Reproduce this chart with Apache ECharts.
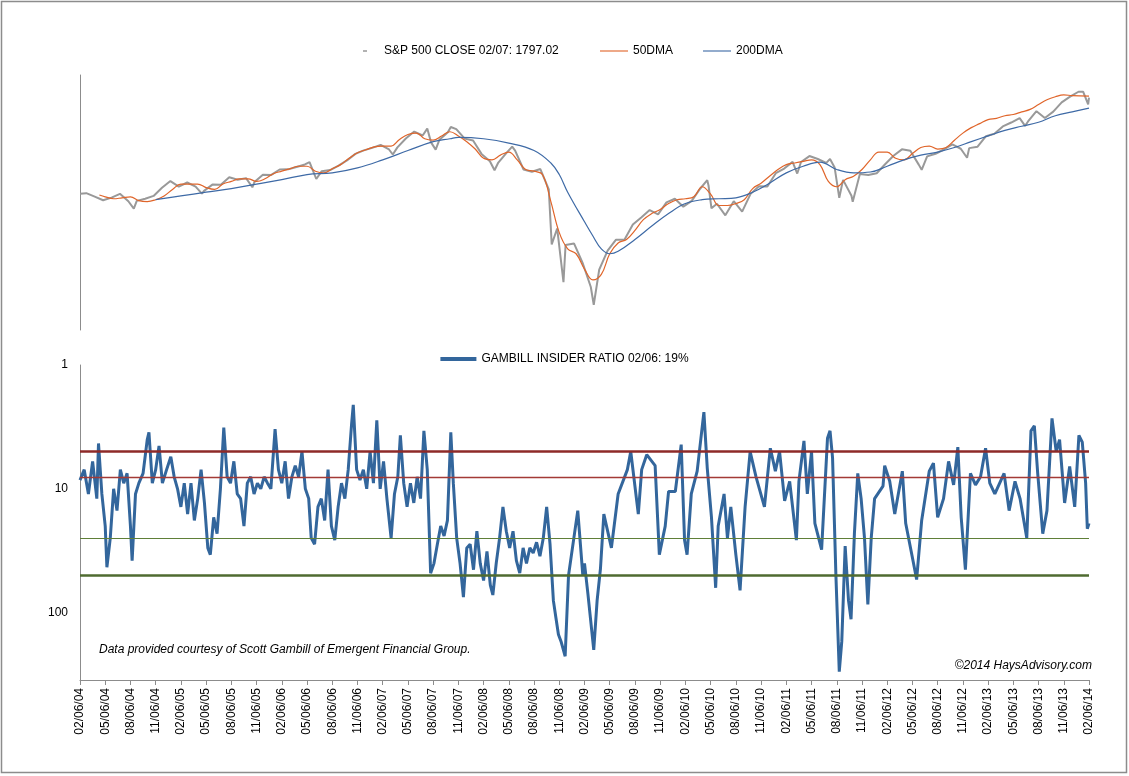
<!DOCTYPE html>
<html>
<head>
<meta charset="utf-8">
<script src="https://cdn.jsdelivr.net/npm/echarts@6/dist/echarts.min.js"></script>
<style>
html, body { margin: 0; padding: 0; background: #fff; }
#chart { width: 1129px; height: 776px; }
</style>
</head>
<body>
<div id="chart"></div>
<script>
// x position = months after 02/06/04
var tickLabels = ['02/06/04','05/06/04','08/06/04','11/06/04','02/06/05','05/06/05','08/06/05','11/06/05',
	'02/06/06','05/06/06','08/06/06','11/06/06','02/06/07','05/06/07','08/06/07','11/06/07',
	'02/06/08','05/06/08','08/06/08','11/06/08','02/06/09','05/06/09','08/06/09','11/06/09',
	'02/06/10','05/06/10','08/06/10','11/06/10','02/06/11','05/06/11','08/06/11','11/06/11',
	'02/06/12','05/06/12','08/06/12','11/06/12','02/06/13','05/06/13','08/06/13','11/06/13','02/06/14'];

// S&P 500 close (month ends plus a few turning points)
var spxClose = [
	[0,1142],[0.75,1145],[1.75,1126],[2.75,1107],[3.75,1121],[4.75,1141],[5.75,1102],[6.4,1064],[6.75,1104],[7.75,1115],[8.75,1130],[9.75,1174],[10.75,1212],
	[11.75,1181],[12.75,1204],[13.75,1181],[14.5,1142],[14.75,1157],[15.75,1192],[16.75,1191],[17.75,1234],[18.75,1220],[19.75,1229],[20.5,1177],[20.75,1207],[21.75,1249],[22.75,1248],
	[23.75,1280],[24.75,1281],[25.75,1295],[26.75,1311],[27.3,1326],[28.1,1224],[28.75,1270],[29.75,1277],[30.75,1304],[31.75,1336],[32.75,1378],[33.75,1401],[34.75,1418],
	[35.75,1438],[36.75,1407],[37.2,1374],[37.75,1421],[38.75,1482],[39.75,1531],[40.75,1503],[41.3,1553],[41.75,1455],[42.3,1406],[42.75,1474],[43.75,1527],[44.1,1565],[44.75,1549],[45.75,1481],[46.75,1468],
	[47.75,1378],[48.75,1331],[49.3,1276],[49.75,1323],[50.75,1386],[51.4,1426],[51.75,1400],[52.75,1280],[53.75,1267],[54.75,1283],[55.75,1166],[56.1,899],[56.75,969],[57.5,752],[57.75,896],[58.75,903],
	[59.75,826],[60.75,735],[61.1,676],[61.75,798],[62.75,873],[63.75,919],[64.75,919],[65.75,987],[66.75,1021],[67.75,1057],[68.75,1036],[69.75,1096],[70.75,1115],
	[71.75,1074],[72.75,1104],[73.75,1169],[74.6,1217],[74.75,1187],[75.1,1066],[75.75,1089],[76.75,1031],[76.9,1022],[77.75,1102],[78.75,1049],[79.75,1141],[80.75,1183],[81.75,1181],[82.75,1258],
	[83.75,1286],[84.75,1327],[85.3,1256],[85.75,1326],[86.75,1364],[87.75,1345],[88.75,1321],[89.2,1345],[89.75,1292],[90.3,1120],[90.75,1219],[91.75,1131],[91.9,1099],[92.75,1253],[93.75,1247],[94.75,1258],
	[95.75,1312],[96.75,1366],[97.75,1408],[98.75,1398],[99.75,1310],[100.1,1278],[100.75,1362],[101.75,1379],[102.75,1407],[103.75,1441],[104.75,1412],[105.5,1353],[105.75,1416],[106.75,1426],
	[107.75,1498],[108.75,1515],[109.75,1569],[110.75,1598],[111.75,1631],[112.4,1573],[112.75,1606],[113.75,1686],[114.75,1633],[115.75,1682],[116.75,1757],[117.75,1806],[118.75,1848],[119.3,1848],[119.9,1742],[120,1797]
];

var dma50 = [
	[2.3,1135],[3,1125],[4,1115],[5,1120],[6,1125],[7,1105],[8,1100],[9,1110],[10,1130],[11,1165],[12,1195],[13,1195],[14,1195],[15,1175],[16,1165],[17,1195],
	[18,1210],[19,1225],[20,1225],[21,1210],[22,1225],[23,1255],[24,1270],[25,1285],[26,1300],[27,1300],[28,1270],[29,1260],[30,1285],[31,1310],[32,1350],[33,1385],
	[34,1405],[35,1425],[36,1430],[37,1430],[38,1475],[39,1510],[40,1520],[41,1480],[42,1470],[43,1500],[44,1530],[45,1500],[46,1460],[47,1410],[48,1350],[49,1340],
	[50,1370],[51,1390],[52,1340],[53,1280],[54,1270],[55,1250],[56,1100],[57,950],[58,880],[59,860],[60,800],[61,760],[62,780],[63,860],[64,905],[65,920],
	[66,960],[67,1010],[68,1040],[69,1060],[70,1090],[71,1110],[72,1115],[73,1125],[74,1180],[75,1140],[76,1080],[77,1080],[78,1090],[79,1110],[80,1170],[81,1200],
	[82,1240],[83,1280],[84,1310],[85,1320],[86,1330],[87,1340],[88,1310],[89,1210],[90,1180],[91,1220],[92,1240],[93,1280],[94,1340],[95,1390],[96,1390],[97,1350],
	[98,1340],[99,1380],[100,1420],[101,1430],[102,1410],[103,1420],[104,1470],[105,1520],[106,1560],[107,1590],[108,1620],[109,1630],[110,1650],[111,1660],[112,1680],
	[113,1700],[114,1740],[115,1780],[116,1805],[117,1820],[118,1815],[120,1810]
];

var dma200 = [
	[9,1110],[12,1130],[15,1150],[18,1170],[21,1195],[24,1220],[27,1250],[30,1260],[33,1290],[36,1340],[39,1400],[42,1460],[44,1480],[45,1490],[48,1480],[51,1450],
	[54,1400],[56,1320],[57,1250],[58,1150],[60,1000],[61,935],[62,880],[63,860],[64,870],[66,920],[68,980],[70,1040],[72,1090],[74,1110],[76,1115],[78,1120],
	[80,1150],[82,1200],[84,1260],[86,1300],[88,1325],[90,1280],[92,1260],[94,1265],[96,1300],[98,1340],[100,1370],[102,1390],[104,1420],[106,1460],[108,1500],
	[110,1540],[112,1570],[114,1600],[116,1650],[118,1680],[120,1710]
];

var insiderRatio = [
	[0,8.5],[0.5,7],[1,11],[1.5,6],[2,12],[2.2,4.3],[2.6,11],[3,20],[3.2,43],[3.6,25],[4,10],[4.4,15],[4.8,7],[5.2,9],[5.6,7.5],[6,20],[6.2,38],[6.6,11],[7,9],[7.5,7.5],
	[8,4],[8.2,3.5],[8.6,9],[9,7],[9.4,4.5],[9.8,9],[10.3,7],[10.8,5.5],[11.2,8],[11.6,10],[12,14],[12.4,9],[12.8,16],[13.2,9],[13.6,18],[14,12],[14.4,7],[14.8,13],
	[15.2,30],[15.5,34],[15.9,17],[16.3,23],[16.7,10],[17.1,3.2],[17.5,8],[17.9,9],[18.3,6],[18.7,11],[19.1,12],[19.5,20],[19.9,9],[20.3,8],[20.7,11],[21.1,9],[21.5,10],
	[21.9,8],[22.3,9],[22.7,10],[23.2,3.3],[23.6,7],[24,9],[24.4,6],[24.8,12],[25.2,8],[25.6,6.5],[26,8],[26.4,5],[26.8,10],[27.2,12],[27.5,25],[27.9,28],[28.3,14],
	[28.7,12],[29.1,18],[29.5,7],[29.9,20],[30.3,26],[30.7,14],[31.1,9],[31.5,12],[31.9,7],[32.3,3],[32.5,2.1],[32.9,7],[33.3,8.5],[33.7,7],[34.1,10],[34.5,5],[34.9,9],
	[35.3,2.8],[35.7,10],[36.1,6],[36.5,12],[37,25],[37.4,11],[37.8,8],[38.1,3.7],[38.5,9],[38.9,14],[39.3,9],[39.7,13],[40.1,8],[40.5,12],[40.9,3.4],[41.3,7],[41.7,48],
	[42.1,40],[42.5,28],[42.9,20],[43.3,24],[43.7,18],[44.1,3.5],[44.4,9],[44.8,25],[45.2,40],[45.6,75],[46,30],[46.4,28],[46.8,45],[47.2,22],[47.6,40],[48,55],[48.4,32],
	[48.8,60],[49.1,72],[49.5,40],[49.9,25],[50.3,14],[50.7,22],[51.1,30],[51.5,22],[51.9,38],[52.3,48],[52.7,30],[53.1,40],[53.5,30],[53.9,33],[54.3,27],[54.7,35],
	[55.1,25],[55.5,14],[55.9,28],[56.3,80],[56.6,110],[56.9,150],[57.2,170],[57.7,225],[58.1,50],[59.2,15],[59.8,50],[60,40],[60.4,70],[61.1,200],[61.5,80],[61.9,44],
	[62.3,16],[63.2,30],[64,11],[65.1,7],[65.5,5],[66.4,16],[66.8,7],[67.4,5.3],[68.4,6.5],[68.9,34],[69.6,20],[70,10.5],[70.8,10.5],[71.5,4.4],[71.9,26],[72.2,34],
	[72.7,11],[73.4,7.2],[74.2,2.4],[74.6,6.8],[75.1,17],[75.6,63],[75.9,20],[76.6,11],[77,25],[77.4,14],[78,34],[78.5,66],[79.1,14],[79.7,5],[80.4,8],[81.4,14],
	[82.1,4.7],[82.7,7.2],[83.2,5],[83.8,12.5],[84.4,8.7],[85.2,26],[85.5,8.7],[86.1,4.1],[86.5,11],[87,5],[87.4,19],[88.2,31],[88.9,3.9],[89.2,3.4],[89.5,5.6],
	[89.9,50],[90.3,300],[90.6,170],[91,29],[91.4,80],[91.7,113],[92.1,23],[92.5,7.5],[92.9,12],[93.3,25],[93.7,86],[94.1,25],[94.5,12],[95.5,9.5],[95.7,6.5],
	[96.3,8.7],[96.9,16],[97.8,7.2],[98.2,19],[99.1,39],[99.5,54],[100.1,18],[101,7.2],[101.5,6.2],[102,17],[102.7,12],[103.3,6],[103.9,9.3],[104.4,4.6],[104.8,17],
	[105.3,45],[105.9,7.5],[106.5,9.3],[107.1,8],[107.7,4.7],[108.2,9],[108.8,11],[109.9,7.5],[110.5,15],[111.2,8.7],[111.8,12],[112.6,25],[113.1,3.4],[113.5,3.1],
	[113.9,7.5],[114.5,23],[115,15],[115.6,2.7],[116.1,5],[116.5,4],[117.1,13],[117.7,6.6],[118.3,14],[118.8,3.7],[119.2,4.2],[119.6,9],[119.8,21],[120,19]
];

var bandLevels = [5, 8, 25, 50];

var chart = echarts.init(document.getElementById('chart'));
var font = 'Liberation Sans';

var option = {
	animation: false,
	textStyle: { fontFamily: font },
	graphic: [
		{ type: 'rect', shape: { x: 1.5, y: 1.5, width: 1125, height: 771 }, style: { fill: 'none', stroke: '#8c8c8c', lineWidth: 1.5 } },
		{ type: 'text', left: 99, top: 644, style: { text: 'Data provided courtesy of Scott Gambill of Emergent Financial Group.', font: 'italic 12px "Liberation Sans"', fill: '#000' } },
		{ type: 'text', right: 37, top: 660, style: { text: '©2014 HaysAdvisory.com', font: 'italic 12px "Liberation Sans"', fill: '#000' } }
	],
	legend: [{
		top: 40, left: 358,
		itemWidth: 4, itemHeight: 1.5, itemGap: 10,
		textStyle: { fontSize: 12, color: '#000', padding: [0, 0, 0, 12] },
		data: [{ name: 'S&P 500 CLOSE 02/07: 1797.02', icon: 'rect', itemStyle: { color: '#999' } }]
	}, {
		top: 40, left: 595,
		itemGap: 30, itemWidth: 28, itemHeight: 12,
		textStyle: { fontSize: 12, color: '#000' },
		data: [
			{ name: '50DMA', icon: 'path://M0,0 H30 V1.2 H0 Z', itemStyle: { color: '#e0652a' } },
			{ name: '200DMA', icon: 'path://M0,0 H30 V1.2 H0 Z', itemStyle: { color: '#3e6aa6' } }
		]
	}, {
		top: 348, left: 'center',
		itemWidth: 36, itemHeight: 12,
		textStyle: { fontSize: 12, color: '#000' },
		data: [{ name: 'GAMBILL INSIDER RATIO 02/06: 19%', icon: 'path://M0,0 H36 V4 H0 Z', itemStyle: { color: '#33669c' } }]
	}],
	grid: [
		{ left: 80, right: 40, top: 75, height: 255 },
		{ left: 80, right: 40, top: 365, height: 315 }
	],
	xAxis: [{
		gridIndex: 0, type: 'value', min: 0, max: 120, interval: 3,
		show: false
	}, {
		gridIndex: 1, type: 'value', min: 0, max: 120, interval: 3,
		axisLine: { show: true, onZero: false, lineStyle: { color: '#8c8c8c' } },
		axisTick: { show: true, length: 5, lineStyle: { color: '#8c8c8c' } },
		splitLine: { show: false },
		axisLabel: {
			rotate: 90, fontSize: 12, color: '#000', margin: 8,
			formatter: function (v) { return tickLabels[Math.round(v / 3)]; }
		}
	}],
	yAxis: [{
		gridIndex: 0, type: 'log', logBase: 10, min: 600, max: 2000,
		axisLine: { show: true, lineStyle: { color: '#8c8c8c' } },
		axisTick: { show: false }, axisLabel: { show: false }, splitLine: { show: false }
	}, {
		gridIndex: 1, type: 'log', logBase: 10, min: 1, max: 350, inverse: true,
		axisLine: { show: true, lineStyle: { color: '#8c8c8c' } },
		axisTick: { show: false }, splitLine: { show: false },
		axisLabel: {
			fontSize: 12, color: '#000', margin: 12,
			formatter: function (v) { return (v === 1 || v === 10 || v === 100) ? String(v) : ''; }
		}
	}],
	series: [{
		name: 'S&P 500 CLOSE 02/07: 1797.02', type: 'line', xAxisIndex: 0, yAxisIndex: 0,
		data: spxClose, symbol: 'none', lineStyle: { color: '#999', width: 2 }, itemStyle: { color: '#999' }
	}, {
		name: '50DMA', type: 'line', xAxisIndex: 0, yAxisIndex: 0, smooth: 0.4,
		data: dma50, symbol: 'none', lineStyle: { color: '#e0652a', width: 1.2 }, itemStyle: { color: '#e0652a' }
	}, {
		name: '200DMA', type: 'line', xAxisIndex: 0, yAxisIndex: 0, smooth: 0.4,
		data: dma200, symbol: 'none', lineStyle: { color: '#3e6aa6', width: 1.2 }, itemStyle: { color: '#3e6aa6' }
	}, {
		name: 'GAMBILL INSIDER RATIO 02/06: 19%', type: 'line', xAxisIndex: 1, yAxisIndex: 1,
		data: insiderRatio, symbol: 'none', lineStyle: { color: '#33669c', width: 3 }, itemStyle: { color: '#33669c' },
		markLine: {
			silent: true, symbol: 'none', label: { show: false },
			data: [
				{ yAxis: bandLevels[0], lineStyle: { color: '#8e2a28', width: 2.5, type: 'solid' } },
				{ yAxis: bandLevels[1], lineStyle: { color: '#a33a36', width: 1.3, type: 'solid' } },
				{ yAxis: bandLevels[2], lineStyle: { color: '#5f7f38', width: 1.2, type: 'solid' } },
				{ yAxis: bandLevels[3], lineStyle: { color: '#4f6b30', width: 2.5, type: 'solid' } }
			]
		}
	}]
};
chart.setOption(option);
</script>
</body>
</html>
